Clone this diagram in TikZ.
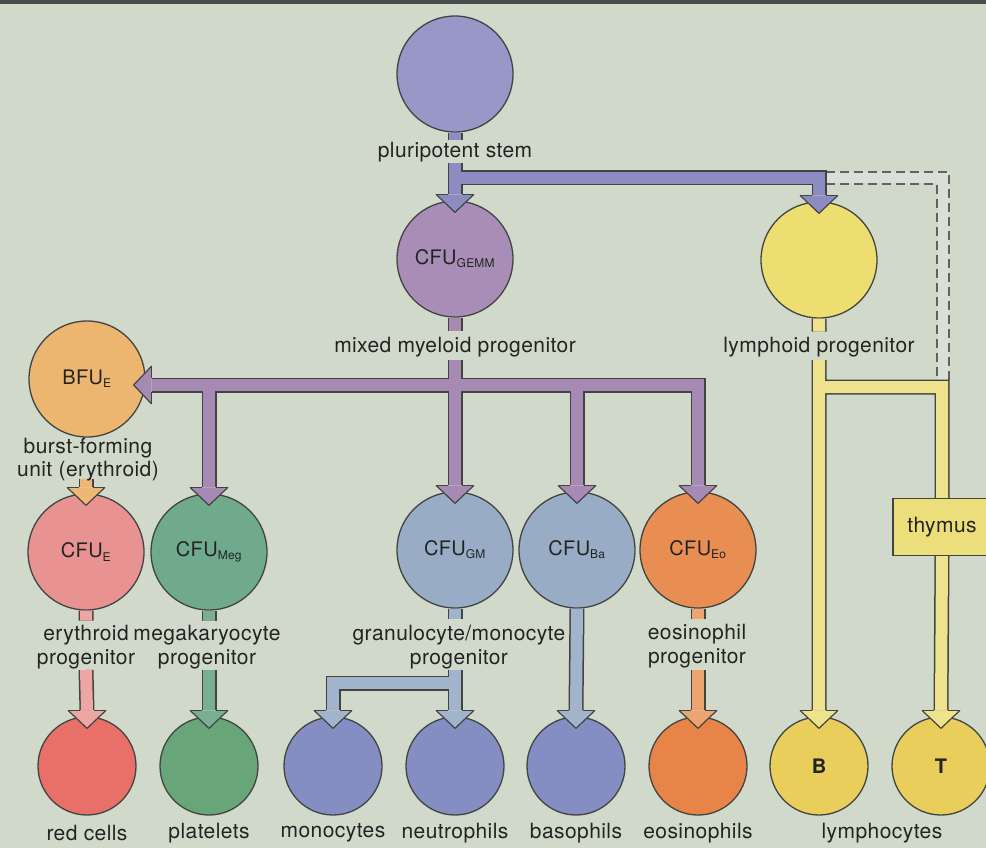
\documentclass[tikz,border=0pt]{standalone}
\usepackage{fontspec}
\setmainfont{TeX Gyre Heros}[LetterSpace=2.0]
\usetikzlibrary{calc}
\definecolor{bg}{RGB}{209,217,203}
\definecolor{topline}{RGB}{70,78,76}
\definecolor{outl}{RGB}{66,68,66}
\definecolor{txt}{RGB}{34,36,34}
\definecolor{stemc}{RGB}{152,152,200}
\definecolor{stempipe}{RGB}{140,140,194}
\definecolor{gemmc}{RGB}{168,142,182}
\definecolor{myelpipe}{RGB}{166,138,180}
\definecolor{lymc}{RGB}{236,222,112}
\definecolor{bfuc}{RGB}{236,182,112}
\definecolor{cfuec}{RGB}{232,146,146}
\definecolor{megc}{RGB}{112,170,140}
\definecolor{gmc}{RGB}{152,172,198}
\definecolor{eoc}{RGB}{232,142,82}
\definecolor{redc}{RGB}{232,112,104}
\definecolor{pltc}{RGB}{104,166,122}
\definecolor{granc}{RGB}{132,142,194}
\definecolor{eosc}{RGB}{232,132,72}
\definecolor{lyc}{RGB}{234,206,92}
\definecolor{thyc}{RGB}{236,222,122}
\definecolor{ypipe}{RGB}{238,226,140}
\definecolor{bfupipe}{RGB}{238,184,116}
\definecolor{pinkpipe}{RGB}{236,166,164}
\definecolor{megpipe}{RGB}{122,174,146}
\definecolor{gmpipe}{RGB}{162,180,204}
\definecolor{eopipe}{RGB}{238,164,112}
\definecolor{dashfill}{RGB}{220,222,216}
\definecolor{dashline}{RGB}{96,98,96}
\newcommand\sbs[1]{\textsubscript{\fontsize{12}{12}\selectfont #1}}
\newcommand\pipe[2]{\draw[pipeout] #2; \draw[pipein,draw=#1] #2;}
\newcommand\headdown[2]{%
  \fill[#1] ($(#2.north)+(0,12)$) -- ($(#2.north)+(-19,-6)$) -- ($(#2.north)+(19,-6)$) -- cycle;
  \draw[headline] ($(#2.north)+(-19,-6)$) -- ($(#2.north)+(0,12)$) -- ($(#2.north)+(19,-6)$);
  \draw[headline] ($(#2.north)+(-19,-6)$) -- ($(#2.north)+(-7,-6)$) ($(#2.north)+(19,-6)$) -- ($(#2.north)+(7,-6)$);}
\tikzset{
  cell/.style={circle, draw=outl, line width=1.3pt, minimum size=116pt, inner sep=0pt,
    text=txt, font=\fontsize{20}{22}\selectfont},
  endcell/.style={cell, minimum size=98pt},
  lbl/.style={text=txt, inner sep=0pt, font=\fontsize{21}{24}\selectfont, align=center},
  pipeout/.style={line width=15pt, draw=outl, line join=miter},
  pipein/.style={line width=12pt, line join=miter},
  headline/.style={draw=outl, line width=1.2pt, line join=miter}
}
\begin{document}
\begin{tikzpicture}[x=1pt,y=-1pt]
\fill[bg] (0,0) rectangle (986,848);
\useasboundingbox (0,0) rectangle (986,848);
\fill[topline] (0,0) rectangle (986,4);
% cells
\node[cell, fill=stemc] (stem) at (455,74) {};
\node[cell, fill=gemmc] (gemm) at (455,259) {CFU\sbs{GEMM}};
\node[cell, fill=lymc] (lymph) at (819,260) {};
\node[cell, fill=bfuc] (bfue) at (87,379) {BFU\sbs{E}};
\node[cell, fill=cfuec] (cfue) at (86,552) {CFU\sbs{E}};
\node[cell, fill=megc] (meg) at (209,552) {CFU\sbs{Meg}};
\node[cell, fill=gmc] (gm) at (455,550) {CFU\sbs{GM}};
\node[cell, fill=gmc] (ba) at (577,550) {CFU\sbs{Ba}};
\node[cell, fill=eoc] (eo) at (698,550) {CFU\sbs{Eo}};
\node[endcell, fill=redc] (red) at (87,766) {};
\node[endcell, fill=pltc] (plt) at (209,766) {};
\node[endcell, fill=granc] (mono) at (333,766) {};
\node[endcell, fill=granc] (neut) at (455,766) {};
\node[endcell, fill=granc] (baso) at (576,766) {};
\node[endcell, fill=eosc] (eos) at (698,766) {};
\node[endcell, fill=lyc, font=\fontsize{20}{22}\selectfont\bfseries] (bcell) at (819,766) {B};
\node[endcell, fill=lyc, font=\fontsize{20}{22}\selectfont\bfseries] (tcell) at (941,766) {T};
\node[draw=outl, line width=1.3pt, fill=thyc, minimum width=98pt, minimum height=57pt, inner sep=0pt,
  text=txt, font=\fontsize{21}{24}\selectfont] (thy) at (942,527) {thymus};
% junction coordinates
\coordinate (sA) at (455,163);
\coordinate (jA) at (455,178);
\coordinate (jL) at (lymph.north |- jA);
\coordinate (sM) at (455,360);
\coordinate (jM) at (455,385);
\coordinate (sB) at (86,479);
\coordinate (sE) at (86,670);
\coordinate (sMeg) at (209,670);
\coordinate (sGM) at (455,670);
\coordinate (jGM) at (455,683);
\coordinate (sEo) at (698,670);
\coordinate (sL) at (819,360);
\coordinate (jY) at (819,387);
\coordinate (jT) at (thy.north |- jY);
% dashed pipe
\coordinate (dA) at ($(jL)+(7,0)$);
\coordinate (dB) at (943,178);
\coordinate (dC) at (943,384);
\draw[dashfill, line width=11pt, line join=miter] (dA) -- (dB) -- (dC);
\draw[dashline, dash pattern=on 9pt off 5pt, line width=1.4pt] ($(dA)+(0,-6)$) -- ($(dB)+(6,-6)$) -- ($(dC)+(6,0)$);
\draw[dashline, dash pattern=on 9pt off 5pt, line width=1.4pt] ($(dA)+(0,6)$) -- ($(dB)+(-6,6)$) -- ($(dC)+(-6,0)$);
% pipes
\pipe{stempipe}{(stem.south) -- ($(stem.south)+(0,7)$) (sA) -- ($(gemm.north)+(0,-6)$) (jA) -- (jL) -- ($(lymph.north)+(0,-6)$)}
\pipe{myelpipe}{(gemm.south) -- ($(gemm.south)+(0,13)$) (sM) -- (jM)
  ($(bfue.east |- jM)+(6,0)$) -- (jM -| eo.north) -- ($(eo.north)+(0,-6)$)
  (jM -| meg.north) -- ($(meg.north)+(0,-6)$)
  (jM) -- ($(gm.north)+(0,-6)$)
  (jM -| ba.north) -- ($(ba.north)+(0,-6)$)}
\pipe{bfupipe}{(sB) -- ($(cfue.north)+(0,-6)$)}
\pipe{pinkpipe}{(cfue.south) -- ($(cfue.south)+(0,10)$) (sE) -- ($(red.north)+(0,-6)$)}
\pipe{megpipe}{(meg.south) -- ($(meg.south)+(0,10)$) (sMeg) -- ($(plt.north)+(0,-6)$)}
\pipe{gmpipe}{(gm.south) -- ($(gm.south)+(0,10)$) (sGM) -- (jGM)
  ($(mono.north)+(0,-6)$) |- (jGM) -- ($(neut.north)+(0,-6)$)}
\pipe{gmpipe}{(ba.south) -- ($(baso.north)+(0,-6)$)}
\pipe{eopipe}{(eo.south) -- ($(eo.south)+(0,10)$) (sEo) -- ($(eos.north)+(0,-6)$)}
\pipe{ypipe}{(lymph.south) -- ($(lymph.south)+(0,13)$) (sL) -- ($(bcell.north)+(0,-6)$)
  (jY) -- (jT) -- (thy.north) (thy.south) -- ($(tcell.north)+(0,-6)$)}
% arrowheads
\headdown{stempipe}{gemm}
\headdown{stempipe}{lymph}
\headdown{myelpipe}{meg}
\headdown{myelpipe}{gm}
\headdown{myelpipe}{ba}
\headdown{myelpipe}{eo}
\headdown{bfupipe}{cfue}
\headdown{pinkpipe}{red}
\headdown{megpipe}{plt}
\headdown{gmpipe}{mono}
\headdown{gmpipe}{neut}
\headdown{gmpipe}{baso}
\headdown{eopipe}{eos}
\headdown{ypipe}{bcell}
\headdown{ypipe}{tcell}
% left-pointing head into BFU-E
\coordinate (bt) at ($(bfue.east |- jM)+(-12,0)$);
\fill[myelpipe] (bt) -- ($(bt)+(18,-19)$) -- ($(bt)+(18,19)$) -- cycle;
\draw[headline] ($(bt)+(18,-19)$) -- (bt) -- ($(bt)+(18,19)$);
\draw[headline] ($(bt)+(18,-19)$) -- ($(bt)+(18,-7)$) ($(bt)+(18,19)$) -- ($(bt)+(18,7)$);
% labels
\node[lbl] (stemlbl) at (455,152) {pluripotent stem};
\node[lbl] (gemmlbl) at (455,347) {mixed myeloid progenitor};
\node[lbl] (lymlbl) at (819,347) {lymphoid progenitor};
\node[lbl, font=\fontsize{21}{23}\selectfont] (bfulbl) at (88,460) {burst-forming\\unit (erythroid)};
\node[lbl] (cfuelbl) at (86,647) {erythroid\\progenitor};
\node[lbl] (meglbl) at (207,647) {megakaryocyte\\progenitor};
\node[lbl] (gmlbl) at (459,647) {granulocyte/monocyte\\progenitor};
\node[lbl] (eolbl) at (697,646) {eosinophil\\progenitor};
\node[lbl] (redlbl) at (87,833) {red cells};
\node[lbl] (pltlbl) at (209,833) {platelets};
\node[lbl] (monolbl) at (333,833) {monocytes};
\node[lbl] (neutlbl) at (455,833) {neutrophils};
\node[lbl] (basolbl) at (576,833) {basophils};
\node[lbl] (eoslbl) at (698,833) {eosinophils};
\node[lbl] (lymphlbl) at (882,833) {lymphocytes};
\end{tikzpicture}
\end{document}
